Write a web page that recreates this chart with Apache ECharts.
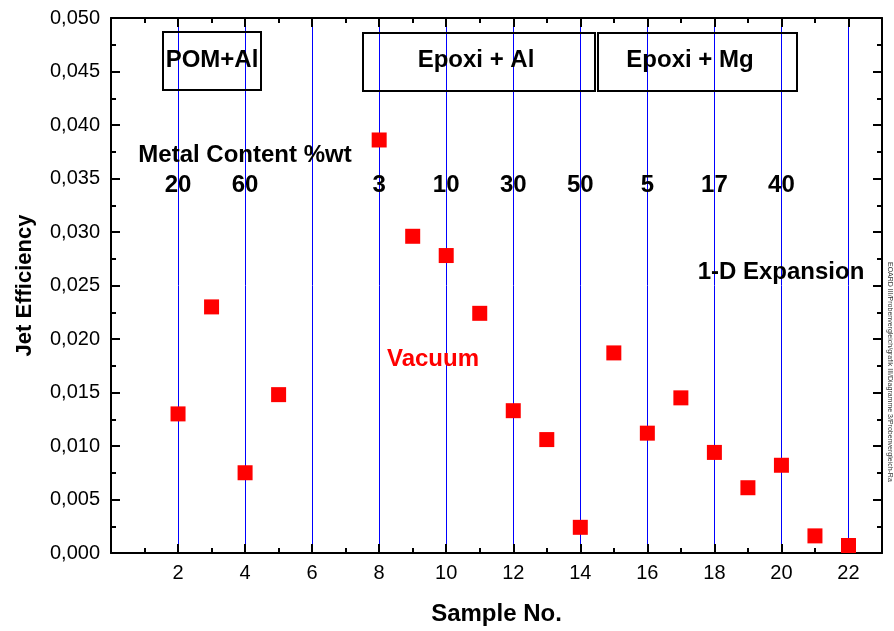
<!DOCTYPE html>
<html>
<head>
<meta charset="utf-8">
<script src="https://cdn.jsdelivr.net/npm/echarts@6/dist/echarts.min.js"></script>
<style>html,body{margin:0;padding:0;background:#fff;}#c{width:894px;height:631px;}</style>
</head>
<body>
<div id="c"></div>
<script>
// ---- data ----
const sampleNo = [2, 3, 4, 5, 8, 9, 10, 11, 12, 13, 14, 15, 16, 17, 18, 19, 20, 21, 22];
const jetEfficiency = [0.0130, 0.0230, 0.0075, 0.0148, 0.0386, 0.0296, 0.0278, 0.0224, 0.0133, 0.0106, 0.0024, 0.0187, 0.0112, 0.0145, 0.0094, 0.0061, 0.0082, 0.0016, 0.0007];
const metalSampleNo = [2, 4, 8, 10, 12, 14, 16, 18, 20];
const metalContent = ['20', '60', '3', '10', '30', '50', '5', '17', '40'];
const groupLabels = ['POM+Al', 'Epoxi + Al', 'Epoxi + Mg'];

const FONT = 'Arial, "Liberation Sans", sans-serif';
const chart = echarts.init(document.getElementById('c'), null, {renderer: 'canvas'});

function fmtY(v) { return v.toFixed(3).replace('.', ','); }

function axisParts(showSplit) {
  return {
    axisLine: {show: true, onZero: false, lineStyle: {color: '#000', width: 2}},
    axisTick: {show: true, inside: true, length: 9, lineStyle: {color: '#000', width: 2}},
    minorTick: {show: true, splitNumber: 2, length: 5, lineStyle: {color: '#000', width: 2}},
    splitLine: {show: showSplit, lineStyle: {color: '#0000ff', width: 1, type: 'solid'}},
    minorSplitLine: {show: false}
  };
}

const graphics = [];
const boxes = [
  {x1: 163, y1: 32, x2: 261, y2: 90},
  {x1: 363, y1: 33, x2: 595, y2: 91},
  {x1: 598, y1: 33, x2: 797, y2: 91}
];
boxes.forEach(b => {
  graphics.push({
    type: 'rect', shape: {x: b.x1, y: b.y1, width: b.x2 - b.x1, height: b.y2 - b.y1},
    style: {fill: 'transparent', stroke: '#000', lineWidth: 2}, z: 10
  });
});
function txt(x, y, s, color, font) {
  return {type: 'text', x: x, y: y, z: 11,
    style: {text: s, font: font || ('bold 24px ' + FONT), fill: color || '#000', textAlign: 'center', textVerticalAlign: 'middle'}};
}
graphics.push(txt(212, 60, groupLabels[0]));
graphics.push(txt(476, 60, groupLabels[1]));
graphics.push(txt(690, 60, groupLabels[2]));
graphics.push(txt(245, 155, 'Metal Content %wt'));
graphics.push(txt(781, 272, '1-D Expansion'));
graphics.push(txt(433, 359, 'Vacuum', '#ff0000'));
graphics.push({type: 'text', x: 890, y: 262, rotation: -Math.PI / 2, z: 11,
  style: {text: 'EOARD III/Probenvergleich/grafik III/Diagramme 3/Probenvergleich-Ra', font: '7px ' + FONT, fill: '#333', textAlign: 'left', textVerticalAlign: 'middle'}});

const option = {
  animation: false,
  backgroundColor: '#fff',
  grid: {left: 111, right: 12, top: 18, bottom: 72, containLabel: false},
  xAxis: [
    Object.assign({type: 'value', min: 0, max: 23, interval: 2, position: 'bottom'}, axisParts(true), {
      axisLabel: {show: true, margin: 10, color: '#000', fontFamily: FONT, fontSize: 20,
        formatter: v => (v === 0 || v === 23) ? '' : String(v)},
      name: 'Sample No.', nameLocation: 'middle', nameGap: 49,
      nameTextStyle: {color: '#000', fontFamily: FONT, fontSize: 24, fontWeight: 'bold'}
    }),
    Object.assign({type: 'value', min: 0, max: 23, interval: 2, position: 'top'}, axisParts(false), {
      axisLabel: {show: false}
    })
  ],
  yAxis: [
    Object.assign({type: 'value', min: 0, max: 0.05, interval: 0.005, position: 'left'}, axisParts(false), {
      axisLabel: {show: true, margin: 11, color: '#000', fontFamily: FONT, fontSize: 20, formatter: fmtY},
      name: 'Jet Efficiency', nameLocation: 'middle', nameGap: 75,
      nameTextStyle: {color: '#000', fontFamily: FONT, fontSize: 22, fontWeight: 'bold'}
    }),
    Object.assign({type: 'value', min: 0, max: 0.05, interval: 0.005, position: 'right'}, axisParts(false), {
      axisLabel: {show: false}
    })
  ],
  series: [
    {
      type: 'scatter', name: 'metal', xAxisIndex: 0, yAxisIndex: 0, z: 5, silent: true,
      symbolSize: 0,
      itemStyle: {opacity: 1},
      data: metalSampleNo.map((x, i) => ({value: [x, 0.0344], label: {formatter: metalContent[i]}})),
      label: {show: true, position: 'inside', color: '#000', opacity: 1, textBorderWidth: 0,
        fontFamily: FONT, fontSize: 24, fontWeight: 'bold'}
    },
    {
      type: 'scatter', name: 'Jet Efficiency', xAxisIndex: 0, yAxisIndex: 0, z: 4,
      symbol: 'rect', symbolSize: 15,
      itemStyle: {color: '#ff0000', opacity: 1},
      data: sampleNo.map((x, i) => [x, jetEfficiency[i]])
    }
  ],
  graphic: graphics
};
chart.setOption(option);
</script>
</body>
</html>
